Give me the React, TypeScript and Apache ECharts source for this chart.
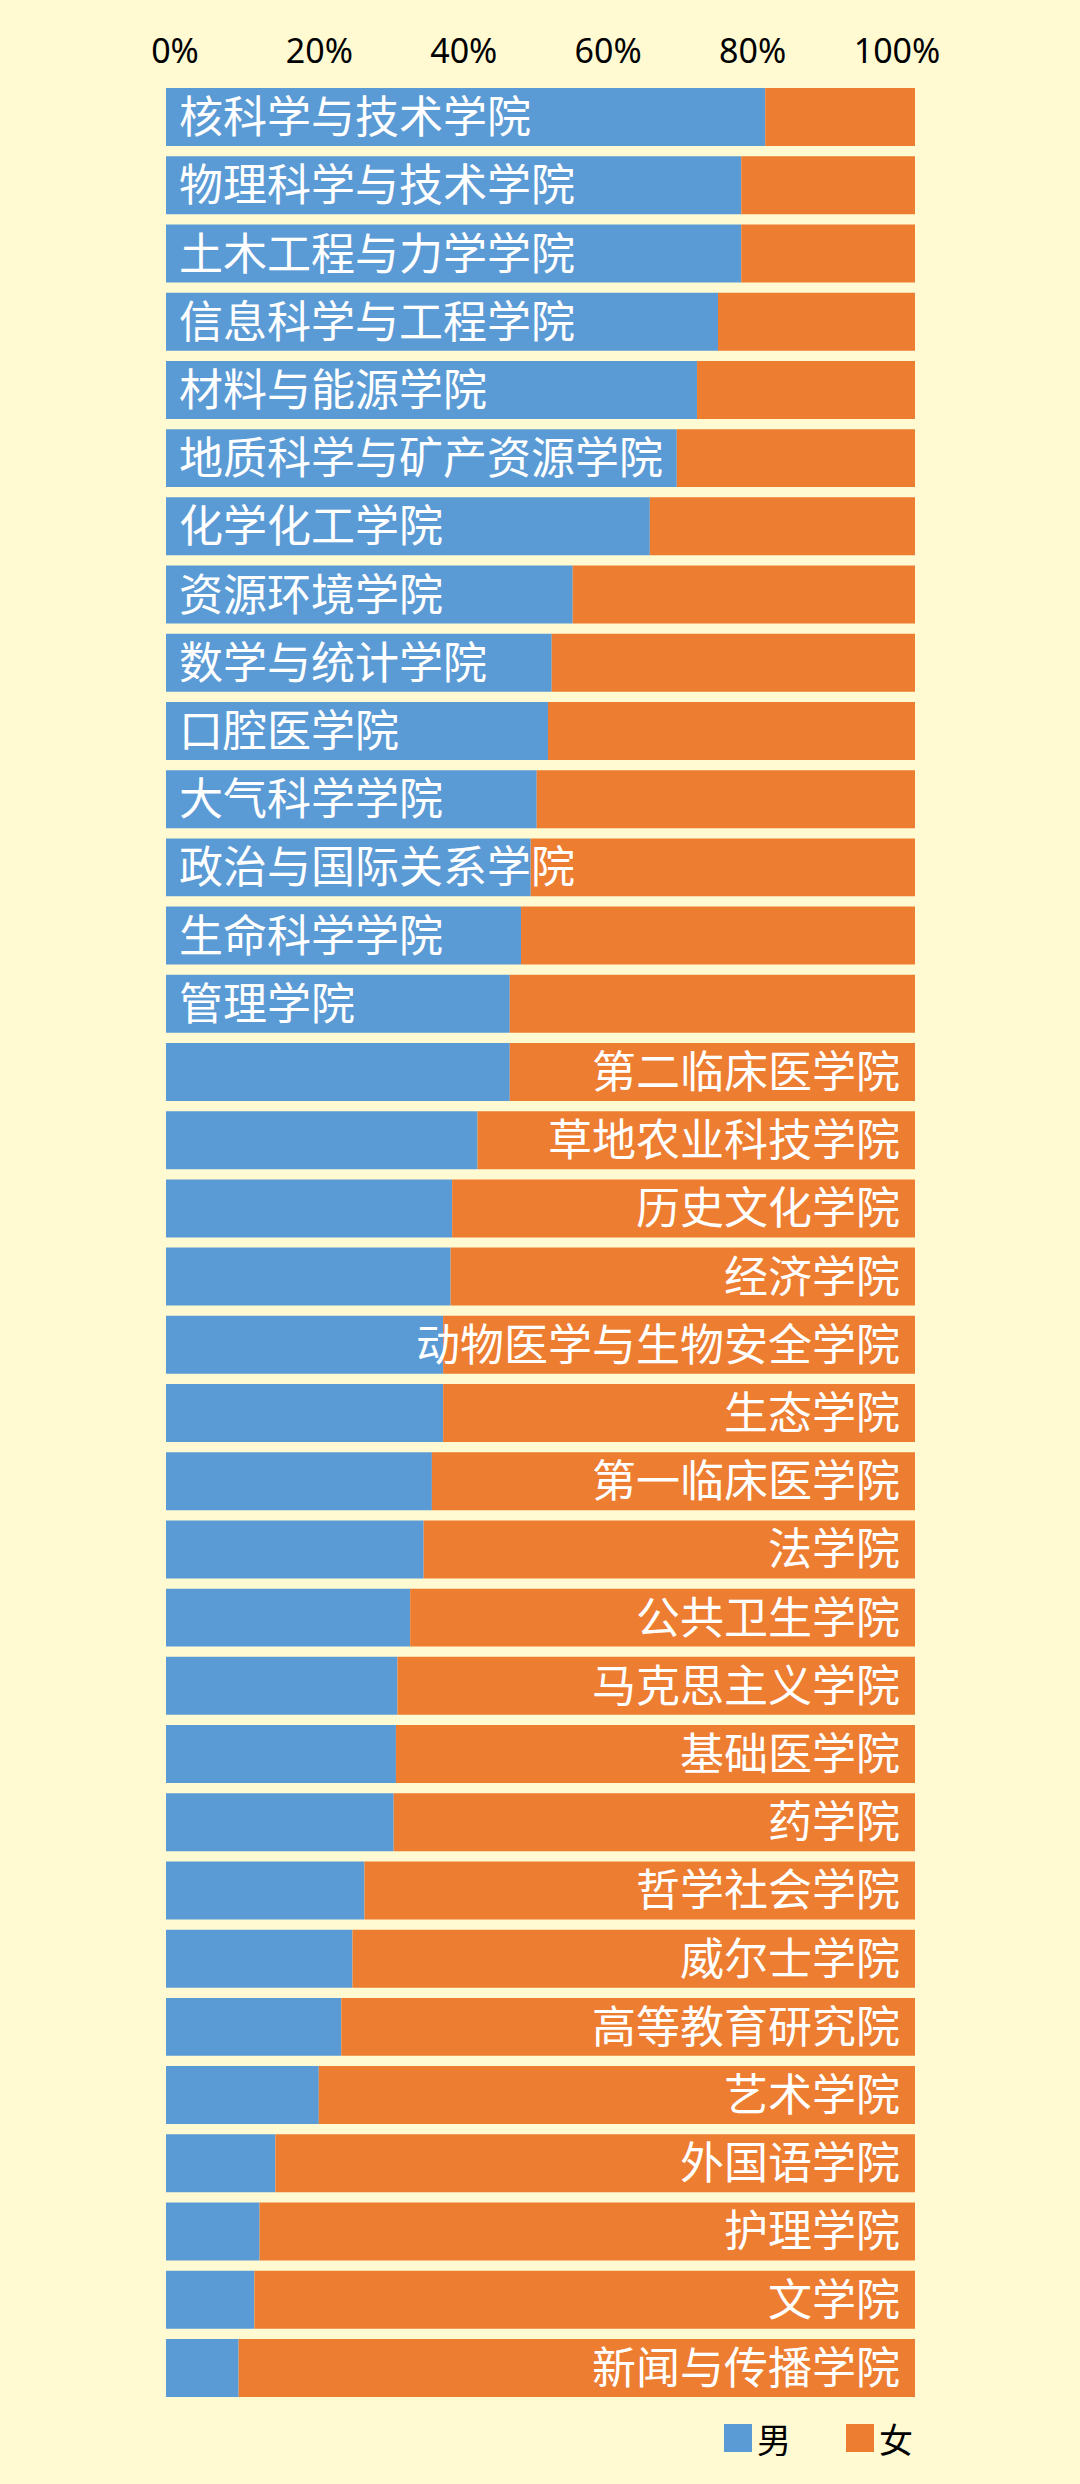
import { useEffect, useRef } from 'react';
import * as echarts from 'echarts';

// colleges, top to bottom
const colleges = [
  '核科学与技术学院', '物理科学与技术学院', '土木工程与力学学院', '信息科学与工程学院',
  '材料与能源学院', '地质科学与矿产资源学院', '化学化工学院', '资源环境学院',
  '数学与统计学院', '口腔医学院', '大气科学学院', '政治与国际关系学院',
  '生命科学学院', '管理学院', '第二临床医学院', '草地农业科技学院',
  '历史文化学院', '经济学院', '动物医学与生物安全学院', '生态学院',
  '第一临床医学院', '法学院', '公共卫生学院', '马克思主义学院',
  '基础医学院', '药学院', '哲学社会学院', '威尔士学院',
  '高等教育研究院', '艺术学院', '外国语学院', '护理学院',
  '文学院', '新闻与传播学院',
];

// share of male students (%)
const maleShare = [
  80.0, 76.8, 76.8, 73.7, 70.9, 68.2, 64.6, 54.3, 51.5, 51.0, 49.5, 48.7,
  47.4, 45.9, 45.9, 41.6, 38.2, 38.0, 37.0, 37.0, 35.5, 34.4, 32.6, 30.9,
  30.7, 30.4, 26.5, 24.9, 23.4, 20.4, 14.6, 12.5, 11.8, 9.7,
];

// share of female students (%)
const femaleShare = [
  20.0, 23.2, 23.2, 26.3, 29.1, 31.8, 35.4, 45.7, 48.5, 49.0, 50.5, 51.3,
  52.6, 54.1, 54.1, 58.4, 61.8, 62.0, 63.0, 63.0, 64.5, 65.6, 67.4, 69.1,
  69.3, 69.6, 73.5, 75.1, 76.6, 79.6, 85.4, 87.5, 88.2, 90.3,
];

// where the college name sits: 'left' (on the male bar) or 'right' (on the female bar)
const labelSide = colleges.map((_, i) => (i < 14 ? 'left' : 'right'));

const seriesNames = ['男', '女'];

const BG = '#FFFAD2';
const BLUE = '#5B9BD5';
const ORANGE = '#ED7D31';
const CJK = '"Noto Sans CJK SC", "Noto Sans", sans-serif';

const App = () => {
  const containerRef = useRef<HTMLDivElement>(null);

  useEffect(() => {
    document.body.style.margin = '0';
    if (!containerRef.current) return;
    const chart = echarts.init(containerRef.current, null, { renderer: 'svg' });

    const option: echarts.EChartsOption = {
      backgroundColor: BG,
      animation: false,
      legend: {
        data: seriesNames,
        right: 162,
        top: 2416,
        icon: 'rect',
        itemWidth: 28,
        itemHeight: 28,
        itemGap: 55,
        textStyle: { color: '#000', fontSize: 34, fontFamily: CJK },
      },
      grid: [
        { left: 166, right: 165, top: 83, bottom: 82 },
        // axis labels sit a little inside the bar ends, as in the original
        { left: 175, right: 183, top: 83, bottom: 82 },
      ],
      xAxis: [
        { type: 'value', gridIndex: 0, min: 0, max: 100, show: false },
        {
          type: 'value',
          gridIndex: 1,
          position: 'top',
          min: 0,
          max: 100,
          interval: 20,
          axisLine: { show: false },
          axisTick: { show: false },
          splitLine: { show: false },
          axisLabel: {
            formatter: '{value}%',
            color: '#000',
            fontSize: 34,
            fontFamily: '"Noto Sans", sans-serif',
            margin: 16,
          },
        },
      ],
      yAxis: [
        { type: 'category', gridIndex: 0, data: colleges, inverse: true, show: false },
        { type: 'value', gridIndex: 1, show: false },
      ],
      series: [
        {
          name: seriesNames[0],
          type: 'bar',
          stack: 'total',
          barCategoryGap: '15%',
          itemStyle: { color: BLUE },
          data: maleShare,
        },
        {
          name: seriesNames[1],
          type: 'bar',
          stack: 'total',
          barCategoryGap: '15%',
          itemStyle: { color: ORANGE },
          data: femaleShare,
        },
        {
          // transparent full-width bars on top that only carry the college names
          name: 'labels',
          type: 'bar',
          z: 5,
          silent: true,
          barGap: '-100%',
          barCategoryGap: '15%',
          itemStyle: { color: 'rgba(0,0,0,0)' },
          label: {
            show: true,
            color: '#fff',
            fontSize: 44,
            fontFamily: CJK,
            offset: [0, -3],
            formatter: (p: any) => p.name,
          },
          data: colleges.map((_, i) => ({
            value: 100,
            label: labelSide[i] === 'left'
              ? { position: 'insideLeft', distance: 13 }
              : { position: 'insideRight', distance: 15 },
          })),
        },
      ],
    };

    chart.setOption(option);
    return () => chart.dispose();
  }, []);

  return <div ref={containerRef} style={{ width: 1080, height: 2484, background: BG }} />;
};

export default App;
